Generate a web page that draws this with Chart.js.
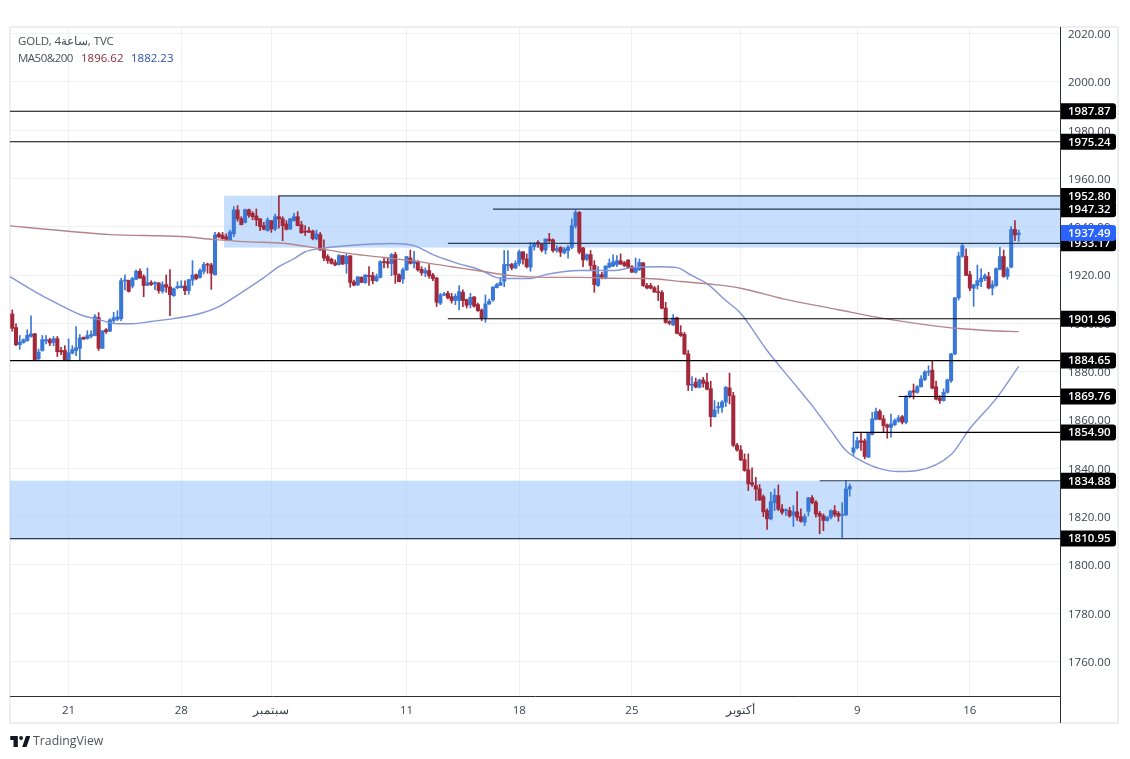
<!DOCTYPE html>
<html>
<head>
<meta charset="utf-8">
<title>GOLD 4h</title>
<script src="https://cdn.jsdelivr.net/npm/chart.js@4"></script>
<style>
    body { margin: 0; background: #fff; font-family: "Open Sans", sans-serif; }
    #wrap { position: relative; width: 1130px; height: 759px; overflow: hidden; }
    canvas { position: absolute; left: 0; top: 0; }
    .txt { position: absolute; font-size: 11.5px; line-height: 16px; color: #4a4e5a; white-space: nowrap; }
    #logo { position: absolute; left: 10px; top: 735px; }
</style>
</head>
<body>
<div id="wrap">
    <canvas id="chart" width="1130" height="759"></canvas>
    <div class="txt" style="left:18px;top:33px;letter-spacing:-.2px">GOLD, 4ساعة, TVC</div>
    <div class="txt" style="left:18px;top:50px;letter-spacing:-.5px">MA50&amp;200</div>
    <div class="txt" style="left:81px;top:50px;color:#8b2b3c">1896.62</div>
    <div class="txt" style="left:131px;top:50px;color:#2a52a8">1882.23</div>
    <svg id="logo" width="20" height="13" viewBox="0 0 36 24"><path fill="#131722" d="M14 2H0v7h6v13h8V2zm16 20h-8l7-20h8l-7 20zM20 9a3.5 3.5 0 1 0 0-7 3.5 3.5 0 0 0 0 7z"/></svg>
    <div class="txt" style="left:33px;top:733px;font-size:12.3px;color:#50535e">TradingView</div>
</div>
<script>
const opens = [
    1903.9,1898.3,1891.2,1892.1,1892.9,1894.6,1895.7,1885.4,1888.8,1892.8,
    1893.3,1892.1,1893.7,1888.8,1888.8,1884.6,1887.7,1888.8,1889.7,1894.3,
    1893.7,1894.7,1895.0,1902.4,1889.7,1897.4,1896.8,1901.2,1901.7,1902.0,
    1917.6,1917.9,1915.5,1918.3,1921.6,1919.4,1915.8,1916.9,1916.4,1916.8,
    1913.3,1916.1,1915.1,1911.5,1914.8,1914.8,1915.5,1913.6,1917.9,1920.2,
    1919.1,1921.6,1924.5,1924.2,1920.2,1937.1,1936.6,1935.9,1934.6,1937.1,
    1947.0,1943.4,1941.8,1947.1,1945.6,1944.5,1943.3,1940.5,1938.4,1942.6,
    1939.1,1944.2,1943.4,1941.2,1939.1,1942.6,1944.2,1940.9,1938.2,1938.4,
    1938.2,1935.0,1936.8,1930.9,1927.7,1926.6,1925.2,1924.4,1928.1,1924.8,
    1928.0,1917.2,1915.9,1919.1,1916.9,1919.9,1919.8,1917.7,1919.1,1925.6,
    1925.6,1924.8,1928.5,1920.2,1918.4,1922.2,1927.1,1924.9,1925.7,1922.4,
    1920.8,1921.9,1920.1,1918.8,1908.4,1911.7,1912.5,1911.1,1909.5,1909.5,
    1912.9,1909.9,1907.8,1911.0,1907.8,1905.6,1902.3,1908.1,1909.7,1914.8,
    1915.8,1917.5,1924.0,1924.4,1923.0,1924.9,1929.7,1926.7,1923.3,1931.8,
    1933.6,1932.9,1930.4,1934.9,1934.6,1930.2,1931.5,1929.2,1930.2,1931.5,
    1940.4,1946.0,1931.3,1926.6,1928.5,1924.1,1915.7,1920.2,1918.8,1923.3,
    1923.8,1924.4,1926.0,1925.2,1926.3,1923.5,1921.2,1922.2,1925.1,1915.7,
    1915.7,1914.8,1913.2,1912.8,1906.4,1900.8,1899.4,1902.3,1896.1,1895.5,
    1887.4,1874.4,1875.7,1873.6,1876.6,1875.7,1873.0,1861.4,1865.0,1865.3,
    1867.4,1873.3,1870.1,1849.6,1847.6,1843.6,1839.4,1834.1,1832.9,1831.5,
    1828.3,1822.5,1819.1,1825.8,1828.7,1823.2,1822.5,1822.5,1820.6,1822.0,
    1820.0,1817.7,1822.2,1827.8,1826.0,1821.4,1820.4,1818.4,1819.8,1822.5,
    1821.4,1820.5,1820.7,1831.4,1846.7,1848.5,1851.4,1851.4,1844.6,1854.0,
    1860.3,1863.6,1860.5,1858.0,1857.0,1858.1,1859.5,1861.4,1859.1,1869.7,
    1872.2,1871.5,1873.8,1876.8,1879.8,1880.7,1873.8,1869.2,1868.1,1871.5,
    1876.3,1887.4,1910.6,1927.8,1927.8,1920.2,1914.6,1915.7,1917.3,1918.6,
    1919.4,1914.6,1915.7,1922.4,1927.7,1919.5,1923.3,1938.9,1936.8
];
const closes = [
    1898.0,1891.2,1892.3,1893.3,1895.1,1895.7,1884.9,1888.2,1893.3,1893.3,
    1891.9,1893.7,1888.3,1888.2,1884.9,1887.9,1889.2,1890.0,1894.0,1893.5,
    1895.0,1895.4,1902.8,1889.7,1897.0,1896.6,1901.5,1902.4,1902.7,1917.7,
    1917.9,1913.3,1918.6,1921.6,1918.8,1915.7,1916.9,1916.1,1916.9,1913.6,
    1916.1,1915.0,1911.9,1914.4,1915.4,1915.5,1913.6,1918.1,1920.1,1918.6,
    1921.9,1924.4,1924.2,1920.8,1936.6,1935.9,1935.1,1934.8,1937.9,1947.0,
    1943.3,1940.9,1947.1,1944.8,1944.2,1942.9,1940.1,1939.0,1942.9,1939.1,
    1944.2,1943.3,1940.5,1939.0,1943.3,1944.2,1940.5,1937.6,1937.8,1937.8,
    1935.1,1937.1,1930.4,1927.1,1926.0,1924.9,1924.2,1928.1,1924.6,1927.8,
    1917.0,1915.9,1919.3,1917.0,1920.1,1919.5,1917.7,1919.4,1925.6,1925.2,
    1924.9,1928.5,1920.2,1917.3,1922.2,1927.7,1924.9,1926.0,1922.2,1921.0,
    1921.9,1919.8,1918.6,1908.8,1911.8,1912.2,1910.6,1909.5,1911.3,1913.2,
    1909.5,1907.5,1910.8,1907.2,1905.3,1902.3,1908.1,1909.2,1915.1,1916.1,
    1917.0,1924.4,1924.4,1923.0,1924.9,1929.7,1926.6,1923.5,1931.8,1933.2,
    1932.9,1930.4,1935.0,1934.3,1930.2,1931.0,1929.5,1930.9,1931.5,1940.5,
    1946.0,1929.5,1926.3,1928.5,1924.0,1916.1,1920.2,1918.8,1923.8,1924.9,
    1925.5,1926.0,1924.6,1924.0,1923.3,1921.2,1923.0,1925.3,1915.7,1914.7,
    1914.6,1913.0,1912.8,1906.3,1900.4,1900.1,1902.3,1895.9,1895.0,1887.4,
    1874.5,1874.5,1873.6,1876.6,1875.2,1872.8,1861.4,1864.2,1865.6,1867.4,
    1873.6,1870.1,1849.6,1847.6,1843.5,1839.1,1833.6,1833.3,1831.4,1826.9,
    1822.0,1819.1,1826.2,1828.9,1823.1,1821.8,1822.8,1820.3,1822.0,1819.8,
    1818.1,1820.0,1827.8,1825.8,1821.1,1820.2,1818.4,1819.8,1822.5,1820.9,
    1820.2,1820.6,1831.5,1832.5,1848.5,1851.5,1850.8,1844.9,1854.8,1860.5,
    1863.5,1860.3,1857.7,1857.0,1858.4,1859.8,1860.9,1859.1,1869.9,1871.8,
    1871.5,1873.8,1877.0,1879.9,1879.9,1873.2,1868.7,1868.1,1871.5,1876.6,
    1887.4,1910.6,1927.9,1932.2,1919.9,1914.6,1916.1,1917.7,1918.8,1919.8,
    1914.7,1916.1,1922.7,1927.7,1919.5,1922.6,1938.9,1936.6,1937.49
];
const highs = [
    1905.6,1899.8,1895.0,1893.6,1897.4,1903.2,1895.9,1889.4,1895.0,1895.0,
    1893.9,1894.6,1894.6,1890.1,1890.8,1893.6,1890.8,1898.7,1895.4,1894.4,
    1897.0,1897.0,1903.7,1904.5,1897.0,1897.9,1901.9,1904.6,1905.3,1918.7,
    1920.1,1917.9,1919.1,1922.1,1922.6,1920.2,1923.0,1917.7,1917.3,1916.9,
    1917.3,1920.1,1922.3,1914.7,1917.3,1917.7,1917.7,1918.3,1926.0,1920.5,
    1922.6,1925.3,1925.0,1924.9,1937.7,1937.7,1937.7,1937.1,1938.7,1948.4,
    1948.8,1944.2,1947.4,1947.4,1946.3,1947.4,1943.5,1941.9,1943.7,1942.6,
    1945.3,1952.8,1944.2,1942.6,1943.5,1945.6,1946.3,1942.3,1940.5,1939.8,
    1938.7,1938.7,1937.7,1934.6,1928.5,1927.1,1926.3,1928.5,1928.1,1928.8,
    1928.1,1918.0,1919.4,1919.4,1920.2,1923.5,1921.2,1920.5,1926.0,1927.1,
    1927.1,1929.0,1929.5,1920.5,1923.0,1927.7,1930.4,1929.9,1926.0,1923.5,
    1923.0,1924.4,1920.8,1919.1,1912.5,1912.9,1913.3,1912.5,1912.2,1915.7,
    1913.9,1910.1,1912.5,1911.1,1908.4,1906.0,1911.8,1910.1,1915.2,1916.6,
    1919.1,1930.2,1930.2,1924.9,1926.0,1930.4,1929.7,1928.8,1933.6,1933.6,
    1934.3,1933.2,1935.0,1937.3,1935.0,1932.2,1931.8,1931.5,1932.2,1943.3,
    1947.0,1946.4,1931.5,1928.8,1930.2,1926.0,1923.5,1921.2,1923.9,1926.7,
    1928.4,1928.1,1928.8,1925.7,1926.3,1924.0,1927.1,1926.7,1925.2,1916.6,
    1916.6,1915.3,1915.7,1913.6,1908.8,1901.2,1903.7,1902.6,1899.1,1896.4,
    1888.8,1878.0,1877.4,1877.0,1877.7,1879.4,1876.1,1868.1,1867.4,1868.1,
    1873.9,1879.5,1871.5,1850.4,1849.4,1846.0,1846.0,1840.2,1836.3,1833.3,
    1829.0,1823.2,1830.1,1831.5,1833.2,1825.0,1823.2,1823.9,1824.6,1830.4,
    1823.2,1821.1,1828.0,1828.7,1826.7,1822.2,1821.1,1820.0,1822.8,1824.6,
    1822.1,1825.8,1834.9,1833.6,1854.9,1852.9,1854.5,1852.2,1854.9,1863.2,
    1865.0,1864.3,1861.9,1858.4,1862.5,1860.5,1861.9,1861.9,1870.1,1872.2,
    1874.9,1874.3,1878.4,1880.5,1882.5,1884.7,1876.1,1870.1,1872.9,1877.0,
    1887.6,1910.8,1929.5,1932.9,1930.9,1921.6,1916.1,1924.2,1922.6,1920.5,
    1921.2,1917.7,1923.0,1931.5,1930.4,1923.3,1940.1,1942.6,1938.7
];
const lows = [
    1896.8,1890.8,1889.3,1891.8,1892.6,1894.3,1884.6,1884.6,1888.5,1891.5,
    1890.8,1890.8,1886.3,1887.1,1884.6,1884.5,1887.4,1886.7,1884.6,1893.4,
    1893.5,1894.0,1894.8,1888.8,1889.6,1895.9,1896.6,1899.8,1901.2,1901.2,
    1913.9,1913.0,1914.7,1918.1,1918.7,1911.1,1915.7,1915.7,1914.0,1912.5,
    1912.5,1912.9,1903.2,1911.2,1914.3,1914.7,1911.9,1912.1,1915.8,1918.1,
    1918.8,1920.5,1920.8,1914.1,1920.0,1935.4,1934.8,1934.7,1934.3,1935.9,
    1942.3,1940.8,1941.6,1943.9,1942.9,1940.5,1938.4,1938.7,1938.2,1937.7,
    1938.4,1939.5,1934.3,1938.7,1938.9,1942.4,1940.4,1937.3,1936.4,1937.6,
    1934.6,1934.6,1930.3,1926.0,1924.9,1924.6,1923.9,1924.1,1924.4,1920.8,
    1915.0,1915.5,1915.8,1916.9,1916.6,1915.7,1916.4,1917.3,1918.8,1923.0,
    1923.0,1919.8,1916.6,1917.2,1916.6,1921.9,1924.6,1923.0,1921.6,1919.9,
    1919.4,1918.8,1917.7,1907.0,1907.8,1911.5,1910.2,1908.4,1907.8,1905.6,
    1907.0,1906.4,1906.4,1906.7,1905.0,1901.2,1900.5,1907.8,1909.2,1914.7,
    1915.7,1915.2,1921.9,1922.2,1922.6,1923.9,1924.6,1923.0,1921.6,1930.4,
    1931.5,1929.6,1928.8,1933.6,1929.5,1929.5,1927.7,1928.8,1927.0,1930.9,
    1939.5,1928.8,1923.5,1926.0,1921.9,1912.9,1915.3,1918.4,1918.4,1923.0,
    1923.5,1923.5,1924.4,1923.5,1923.0,1921.1,1920.8,1921.9,1915.3,1914.3,
    1914.3,1912.9,1909.5,1906.0,1900.1,1899.4,1899.1,1895.7,1894.6,1887.1,
    1872.2,1872.2,1873.3,1873.3,1873.6,1872.5,1857.3,1861.2,1862.8,1863.2,
    1865.6,1866.7,1849.0,1847.1,1843.2,1838.8,1830.8,1832.5,1826.7,1826.7,
    1820.0,1814.7,1818.7,1822.5,1822.5,1820.9,1820.5,1819.8,1816.0,1818.4,
    1817.7,1816.3,1820.3,1825.3,1819.8,1812.9,1814.2,1818.1,1819.1,1820.0,
    1818.1,1810.95,1820.5,1828.5,1845.3,1848.0,1847.4,1843.9,1844.5,1853.8,
    1860.1,1860.1,1854.9,1852.5,1852.9,1857.7,1859.1,1858.4,1858.4,1869.2,
    1868.7,1871.1,1873.6,1876.3,1878.4,1872.9,1868.3,1866.9,1867.8,1871.1,
    1875.6,1887.1,1909.7,1927.4,1919.8,1913.6,1907.1,1914.3,1915.2,1917.7,
    1914.3,1911.8,1915.3,1922.2,1919.1,1918.3,1923.0,1934.3,1934.0
];

// moving averages read at candle positions
const ma200Idx = [-0.6,15,26,45,54,63,72,82,90,99,108,117,125,133,142,151,160,169,178,187,194,205,220,232,243,252,261,268];
const ma200 = [1940.4,1938.2,1936.8,1936.0,1934.7,1933.8,1933.2,1931.0,1928.9,1927.3,1925.6,1923.5,1921.6,1919.8,1919.1,1919.1,1918.7,1918.6,1917.4,1916.1,1914.6,1910.3,1905.7,1902.1,1899.5,1897.9,1897.0,1896.62];
const ma50Idx = [-0.6,6,12,18,23,28,32,37,43,49,55,61,67,71,75,78,82,89,101,107,112,118,125,129,133,138,142,151,160,165,172,177,181,185,190,194,201,208,213,218,222,227,231,236,241,250,255,262,268];
const ma50 = [1919.4,1913.2,1908.2,1903.7,1901.6,1899.9,1899.9,1900.8,1902.0,1903.7,1907.0,1912.8,1919.0,1923.5,1926.8,1929.7,1931.0,1932.2,1933.1,1932.2,1928.5,1925.2,1921.9,1919.0,1918.6,1918.6,1920.2,1921.9,1921.9,1923.1,1923.5,1923.1,1919.8,1916.5,1909.5,1904.1,1888.8,1875.5,1866.0,1855.6,1847.4,1842.4,1839.9,1838.7,1839.1,1845.7,1856.5,1868.9,1882.23];

const levels = [1987.87,1975.24,1952.80,1947.32,1933.17,1901.96,1884.65,1869.76,1854.90,1834.88,1810.95];
const levelStarts = [-0.6,-0.6,71,128,116,116,-0.6,236,224,215,-0.6];
const lastPrice = 1937.49;

const bandStarts = [56.4,-0.6];
const bandHighs = [1952.9,1834.9];
const bandLows = [1931.4,1810.6];

const yTicks = [2020,2000,1980,1960,1940,1920,1900,1880,1860,1840,1820,1800,1780,1760];
const xTicks = [15,45,69,105,135,165,194,225,255];
const xTickLabels = ["21","28","سبتمبر","11","18","25","أكتوبر","9","16"];

const BLUE = "#3a78d8", RED = "#a3283a";
const X_MIN = -0.6, X_MAX = 279;
const isUp = i => closes[i] >= opens[i];
const candleColor = c => isUp(c.dataIndex) ? BLUE : RED;

const levelSets = levels.map((v, i) => ({
    type: "line",
    data: [{ x: levelStarts[i], y: v }, { x: X_MAX, y: v }],
    borderColor: bandLows.some((lo, b) => v >= lo && v <= bandHighs[b]) ? "#2c3d55" : "#000",
    borderWidth: 1.2,
    pointRadius: 0,
    order: 0
}));

const framePlugin = {
    id: "frame",
    beforeDraw(c) {
        const g = c.ctx;
        g.save();
        g.strokeStyle = "#eceef2";
        g.lineWidth = 2;
        g.strokeRect(10, 27, 1108, 696);
        g.restore();
    },
    beforeDatasetsDraw(c) {
        const g = c.ctx, x = c.scales.x, y = c.scales.y;
        g.save();
        g.fillStyle = "rgba(144,191,249,.5)";
        bandStarts.forEach((s, i) => {
            const left = x.getPixelForValue(s), top = y.getPixelForValue(bandHighs[i]);
            g.fillRect(left, top, x.right - left, y.getPixelForValue(bandLows[i]) - top);
        });
        g.restore();
    },
    afterDraw(c) {
        const g = c.ctx, y = c.scales.y, a = c.chartArea;
        g.save();
        g.strokeStyle = "#2a2e39";
        g.lineWidth = 1;
        g.beginPath();
        g.moveTo(a.right + 0.5, a.top);
        g.lineTo(a.right + 0.5, 723);
        g.stroke();

        const tag = (v, color) => {
            const py = y.getPixelForValue(v);
            g.fillStyle = color;
            g.beginPath();
            g.roundRect(a.right + 1, py - 8, 55, 16, [0, 3, 3, 0]);
            g.fill();
            g.fillStyle = "#fff";
            g.font = '600 11.5px "Open Sans"';
            g.textBaseline = "middle";
            g.fillText(v.toFixed(2), a.right + 8, py + 0.5);
        };
        levels.forEach(v => tag(v, "#000"));
        tag(lastPrice, "#2962ff");
        g.restore();
    }
};

new Chart(document.getElementById("chart"), {
    type: "bar",
    data: {
        datasets: [
            ...levelSets,
            {
                type: "line",
                data: ma200Idx.map((x, i) => ({ x: x, y: ma200[i] })),
                borderColor: "#b5858c",
                borderWidth: 1.4,
                pointRadius: 0,
                cubicInterpolationMode: "monotone",
                order: 1
            },
            {
                type: "line",
                data: ma50Idx.map((x, i) => ({ x: x, y: ma50[i] })),
                borderColor: "#8496d6",
                borderWidth: 1.4,
                pointRadius: 0,
                cubicInterpolationMode: "monotone",
                order: 1
            },
            {
                data: opens.map((o, i) => ({ x: i, y: [Math.min(o, closes[i]), Math.max(o, closes[i])] })),
                backgroundColor: candleColor,
                barThickness: 3.4,
                minBarLength: 1,
                grouped: false,
                order: 2
            },
            {
                data: lows.map((l, i) => ({ x: i, y: [l, highs[i]] })),
                backgroundColor: candleColor,
                barThickness: 1,
                grouped: false,
                order: 3
            }
        ]
    },
    options: {
        responsive: false,
        animation: false,
        devicePixelRatio: 1,
        layout: { padding: { left: 10, top: 27, right: 12, bottom: 36 } },
        plugins: { legend: { display: false }, tooltip: { enabled: false } },
        scales: {
            x: {
                type: "linear",
                min: X_MIN,
                max: X_MAX,
                offset: false,
                afterBuildTicks: s => { s.ticks = xTicks.map(v => ({ value: v })); },
                afterFit: s => { s.height = 27; },
                grid: { color: "#eef0f3", drawTicks: false, offset: false },
                border: { color: "#2a2e39" },
                ticks: {
                    autoSkip: false,
                    maxRotation: 0,
                    padding: 8,
                    color: "#3d4250",
                    font: { family: '"Open Sans"', size: 11.5 },
                    callback: v => xTickLabels[xTicks.indexOf(v)]
                }
            },
            y: {
                position: "right",
                min: 1745.75,
                max: 2022.75,
                afterBuildTicks: s => { s.ticks = yTicks.map(v => ({ value: v })); },
                afterFit: s => { s.width = 58; },
                grid: { color: "#eef0f3", drawTicks: false },
                border: { display: false },
                ticks: {
                    autoSkip: false,
                    padding: 8,
                    labelOffset: 1,
                    color: "#3d4250",
                    font: { family: '"Open Sans"', size: 11.5 },
                    callback: v => v.toFixed(2)
                }
            }
        }
    },
    plugins: [framePlugin]
});
</script>
</body>
</html>
